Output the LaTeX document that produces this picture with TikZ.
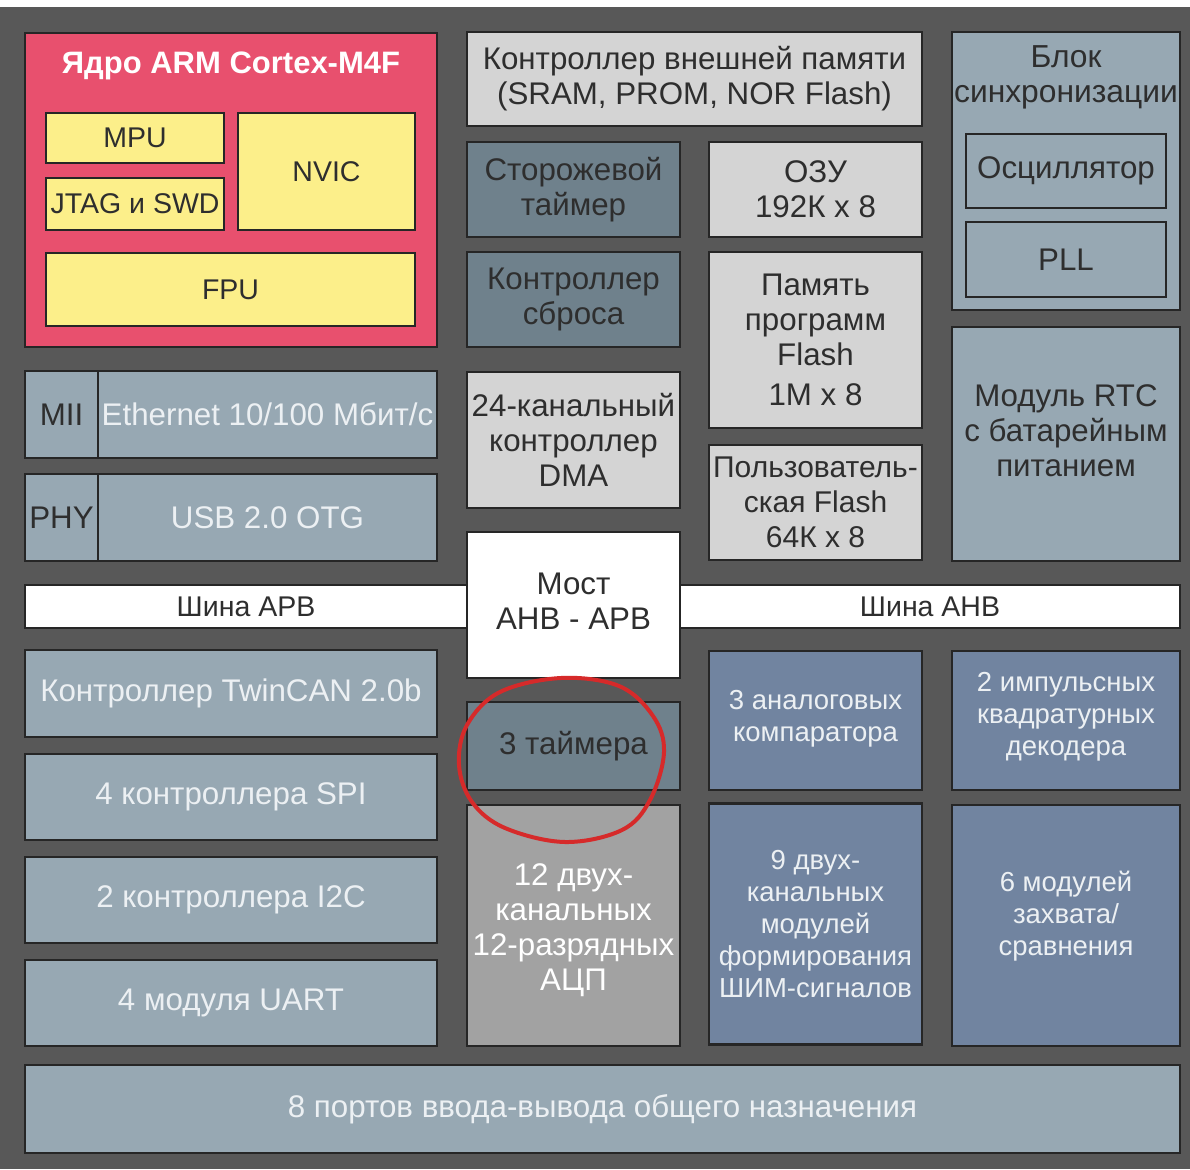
\documentclass[tikz,border=0pt]{standalone}
\usepackage{fontspec}
\setmainfont{Liberation Sans}
\definecolor{bgc}{HTML}{585858}
\definecolor{edgec}{HTML}{262626}
\definecolor{corec}{HTML}{E8506E}
\definecolor{yelc}{HTML}{FCEF8A}
\definecolor{lgray}{HTML}{D4D4D4}
\definecolor{slate}{HTML}{6F818C}
\definecolor{steel}{HTML}{97A8B3}
\definecolor{adcc}{HTML}{A2A2A2}
\definecolor{bluec}{HTML}{7184A0}
\definecolor{darkt}{HTML}{2E2E2E}
\definecolor{lightt}{HTML}{ECF0F3}
\definecolor{ringc}{HTML}{D62A2A}
\newcommand\sztext{\fontsize{31.3}{35}\selectfont}
\newcommand\szcore{\fontsize{28.5}{33}\selectfont}
\newcommand\szbus{\fontsize{28.5}{33}\selectfont}
\newcommand\szuf{\fontsize{30}{35}\selectfont}
\newcommand\szblue{\fontsize{27.5}{32}\selectfont}
\begin{document}
\begin{tikzpicture}[x=1pt,y=-1pt,
  blk/.style={draw=edgec, line width=2.6pt, inner sep=0pt, align=center, text=darkt, font=\sztext},
  txt/.style={inner sep=0pt, align=center, font=\sztext},
  dk/.style={text=darkt},
  lt/.style={text=lightt}]
\useasboundingbox (0,0) rectangle (1190,1169);
\fill[white] (0,0) rectangle (1190,1169);
\fill[bgc] (0,7) rectangle (1190,1169);

% ARM core
\node[blk, fill=corec, minimum width=412pt, minimum height=314pt] (core) at (231,190) {};
\node[txt, text=white, font=\fontsize{31}{35}\selectfont\bfseries] (coret) at (231,66) {Ядро ARM Cortex-M4F};
\node[blk, fill=yelc, font=\szcore, minimum width=178pt, minimum height=50pt] (mpu) at (135,138) {MPU};
\node[blk, fill=yelc, font=\szcore, minimum width=178pt, minimum height=52pt] (jtag) at (135,204) {JTAG и SWD};
\node[blk, fill=yelc, font=\szcore, minimum width=177pt, minimum height=117pt] (nvic) at (326.5,171.5) {NVIC};
\node[blk, fill=yelc, font=\szcore, minimum width=369pt, minimum height=73pt] (fpu) at (230.5,289.5) {FPU};

% middle top
\node[blk, fill=lgray, minimum width=455pt, minimum height=94pt] (extmem) at (694.5,79) {Контроллер внешней памяти\\(SRAM, PROM, NOR Flash)};
\node[blk, fill=slate, minimum width=213pt, minimum height=95pt] (wdt) at (573.5,189.5) {Сторожевой\\таймер};
\node[blk, fill=lgray, minimum width=213pt, minimum height=95pt] (ram) at (815.5,189.5) {ОЗУ\\192К x 8};
\node[blk, fill=slate, minimum width=213pt, minimum height=95pt] (rst) at (573.5,299.5) {Контроллер\\сброса};
\node[blk, fill=lgray, minimum width=213pt, minimum height=176pt] (flash) at (815.5,340) {Память\\программ\\Flash\\[5pt]1M x 8};
\node[blk, fill=lgray, minimum width=213pt, minimum height=136pt] (dma) at (573.5,440) {24-канальный\\контроллер\\DMA};
\node[blk, fill=lgray, font=\szuf, minimum width=213pt, minimum height=115pt] (uflash) at (815.5,502.5) {Пользователь-\\ская Flash\\64К x 8};

% right column
\node[blk, fill=steel, minimum width=228pt, minimum height=278pt] (sync) at (1066,171) {};
\node[txt, dk, font=\fontsize{31.8}{35}\selectfont] (synct) at (1066,77.5) {Блок\\синхронизации};
\node[blk, fill=steel, minimum width=200pt, minimum height=74pt] (osc) at (1066,171) {Осциллятор};
\node[blk, fill=steel, minimum width=200pt, minimum height=75pt] (pll) at (1066,259.5) {PLL};
\node[blk, fill=steel, minimum width=228pt, minimum height=234pt] (rtc) at (1066,444) {};
\node[txt, dk] (rtct) at (1066,431) {Модуль RTC\\с батарейным\\питанием};

% Ethernet / USB
\node[blk, fill=steel, minimum width=73pt, minimum height=87pt] (mii) at (61.5,414.5) {MII};
\node[blk, fill=steel, lt, minimum width=339pt, minimum height=87pt] (eth) at (267.5,414.5) {Ethernet 10/100 Мбит/с};
\node[blk, fill=steel, minimum width=73pt, minimum height=87pt] (phy) at (61.5,517.5) {PHY};
\node[blk, fill=steel, lt, minimum width=339pt, minimum height=87pt] (usb) at (267.5,517.5) {USB 2.0 OTG};

% buses and bridge
\node[blk, fill=white, font=\szbus, minimum width=442pt, minimum height=43pt] (apb) at (246,606.5) {Шина APB};
\node[blk, fill=white, font=\szbus, minimum width=500pt, minimum height=43pt] (ahb) at (930,606.5) {Шина AHB};
\node[blk, fill=white, minimum width=213pt, minimum height=146pt] (bridge) at (573.5,605) {};
\node[txt, dk] (bridget) at (573.5,601) {Мост\\AHB - APB};

% left lower
\node[blk, fill=steel, lt, minimum width=412pt, minimum height=87pt] (can) at (231,693.5) {Контроллер TwinCAN 2.0b};
\node[blk, fill=steel, lt, minimum width=412pt, minimum height=86pt] (spi) at (231,797) {4 контроллера SPI};
\node[blk, fill=steel, lt, minimum width=412pt, minimum height=86pt] (i2c) at (231,900) {2 контроллера I2C};
\node[blk, fill=steel, lt, minimum width=412pt, minimum height=86pt] (uart) at (231,1003) {4 модуля UART};

% middle lower
\node[blk, fill=slate, minimum width=213pt, minimum height=88pt] (tim3) at (573.5,746) {3 таймера};
\node[blk, fill=adcc, minimum width=213pt, minimum height=241pt] (adc) at (573.5,925.5) {};
\node[txt, text=white] (adct) at (573.5,930) {12 двух-\\канальных\\12-разрядных\\АЦП};
\node[blk, fill=bluec, minimum width=213pt, minimum height=139pt] (comp) at (815.5,720.5) {};
\node[txt, lt, font=\szblue] (compt) at (815.5,719) {3 аналоговых\\компаратора};
\node[blk, fill=bluec, minimum width=228pt, minimum height=139pt] (qdec) at (1066,720.5) {};
\node[txt, lt, font=\szblue] (qdect) at (1066,717) {2 импульсных\\квадратурных\\декодера};
\node[blk, fill=bluec, lt, font=\szblue, minimum width=213pt, minimum height=241pt] (pwm) at (815.5,924) {9 двух-\\канальных\\модулей\\формирования\\ШИМ-сигналов};
\node[blk, fill=bluec, minimum width=228pt, minimum height=241pt] (capt) at (1066,925.5) {};
\node[txt, lt, font=\szblue] (captt) at (1066,916) {6 модулей\\захвата/\\сравнения};

% GPIO
\node[blk, fill=steel, lt, minimum width=1155pt, minimum height=88pt] (gpio) at (602.5,1109) {8 портов ввода-вывода общего назначения};

% hand-drawn ring
\draw[ringc, line width=4pt, line cap=round] plot[smooth cycle, tension=0.6] coordinates {
  (561,678) (619,686) (653,716) (664,752) (650,800) (622,830) (565,842) (505,828) (472,802) (459,765) (467,725) (500,692)};
\end{tikzpicture}
\end{document}
